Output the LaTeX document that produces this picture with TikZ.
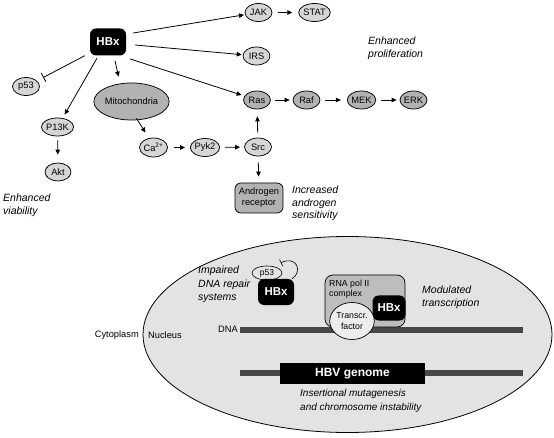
\documentclass[tikz,border=0pt]{standalone}
\usepackage{fontspec}
\setmainfont{Liberation Sans}
\usetikzlibrary{arrows.meta,shapes.geometric}
\definecolor{lg}{gray}{0.84}
\definecolor{dg}{gray}{0.70}
\definecolor{nuc}{gray}{0.89}
\definecolor{cplx}{gray}{0.74}
\definecolor{tfc}{gray}{0.93}
\definecolor{dna}{gray}{0.28}
\begin{document}
\begin{tikzpicture}[x=1pt,y=-1pt,
 every node/.style={font=\fontsize{9.3}{11}\selectfont},
 sm/.style={ellipse,draw,line width=0.75pt,fill=lg,inner sep=0pt,minimum width=27pt,minimum height=18pt},
 dk/.style={sm,fill=dg},
 hbx/.style={rectangle,rounded corners=6pt,fill=black,text=white,font=\fontsize{11.5}{12}\selectfont\bfseries,minimum width=36pt,minimum height=27pt,inner sep=0pt},
 arr/.style={-{Triangle[length=5pt,width=4.5pt]},line width=0.8pt},
 lab/.style={font=\fontsize{10.5}{12.5}\selectfont\itshape,align=left,anchor=north west,inner sep=0pt},
]
\useasboundingbox (0,0) rectangle (554,438);

% ---------- top pathway ----------
\node[hbx] (hbx) at (108,42) {HBx};
\node[sm] (jak) at (258.5,12.5) {JAK};
\node[sm] (stat) at (314.5,12.5) {STAT};
\node[sm] (irs) at (256.5,56) {IRS};
\node[dk] (ras) at (257,100) {Ras};
\node[dk] (raf) at (306.5,100) {Raf};
\node[dk] (mek) at (361.5,100) {MEK};
\node[dk] (erk) at (413.5,100) {ERK};
\node[sm] (p53) at (26,86.5) {p53};
\node[sm,minimum width=29pt] (pik) at (57.5,127) {P13K};
\node[sm,minimum width=26pt] (akt) at (58,172) {Akt};
\node[ellipse,draw,line width=0.75pt,fill=dg,minimum width=73pt,minimum height=37pt,inner sep=0pt] (mito) at (131.5,101.5) {Mitochondria};
\node[sm,minimum width=25pt,minimum height=19pt] (ca) at (153.5,147.5) {Ca\textsuperscript{2+}};
\node[sm,minimum width=26pt] (pyk) at (205,147.5) {Pyk2};
\node[sm] (src) at (258,147) {Src};
\node[rectangle,rounded corners=6pt,draw,line width=0.75pt,fill=dg,minimum width=48pt,minimum height=30pt,align=center,inner sep=0pt] (ar) at (259,198) {Androgen\\receptor};

\draw[arr,shorten >=1pt] ([shift={(7,-9)}]hbx.east) -- (jak);
\draw[arr,shorten >=1pt] ([shift={(9,3)}]hbx.east) -- (irs);
\draw[arr,shorten >=3pt] ([shift={(4,17)}]hbx.east) -- (ras);
\draw[arr] ([shift={(7,5)}]hbx.south) -- ([shift={(-13,-6)}]mito.north);
\draw[-{Bar[width=10pt]},line width=0.8pt,shorten >=7pt] ([shift={(-5,0)}]hbx.south west) -- (p53);
\draw[arr,shorten >=4pt] ([shift={(-11,2.5)}]hbx.south) -- (pik);
\draw[arr,shorten <=4pt,shorten >=8pt] (pik) -- (akt);
\draw[arr] ([shift={(5,-2)}]mito.south) -- ([shift={(-8,-5)}]ca.north);
\draw[arr,shorten <=6pt,shorten >=5pt] (ca) -- (pyk);
\draw[arr,shorten <=5pt,shorten >=4pt] (pyk) -- (src);
\draw[arr,shorten <=5pt,shorten >=7pt] (src) -- (ras);
\draw[arr,shorten <=6pt,shorten >=6pt] (src) -- (ar);
\draw[arr,shorten <=4.5pt,shorten >=3pt] (ras) -- (raf);
\draw[arr,shorten <=5pt,shorten >=6pt] (raf) -- (mek);
\draw[arr,shorten <=5pt,shorten >=3pt] (mek) -- (erk);
\draw[arr,shorten <=6pt,shorten >=6pt] (jak) -- (stat);

\node[lab] (viab) at (3,194) {Enhanced\\viability};
\node[lab] (prol) at (368,37) {Enhanced\\proliferation};
\node[lab] (andr) at (292,186) {Increased\\androgen\\sensitivity};

% ---------- nucleus ----------
\node[ellipse,draw,line width=0.8pt,fill=nuc,minimum width=409pt,minimum height=196pt,inner sep=0pt] (nucleus) at (347.5,334.5) {};
\node[anchor=east,inner sep=0pt,font=\fontsize{9.3}{10}\selectfont] (cyto) at (139,335) {Cytoplasm};
\node[anchor=west,inner sep=0pt,font=\fontsize{9.3}{10}\selectfont] (nucl) at (148,335) {Nucleus};

\node[anchor=east,inner sep=0pt] (dnalab) at (238,329) {DNA};
\draw[line width=6pt,dna] (240,330) -- (523,330);
\draw[line width=6pt,dna] (240,373) -- (523,373);
\node[rectangle,fill=black,text=white,minimum width=145pt,minimum height=21pt,inner sep=0pt,font=\fontsize{12}{13}\selectfont\bfseries] (hbv) at (352.5,373.5) {HBV genome};
\node[lab,font=\fontsize{10}{14}\selectfont\itshape] (insert) at (300,389) {Insertional mutagenesis\\and chromosome instability};

\node[lab,font=\fontsize{10.5}{13.5}\selectfont\itshape] (impair) at (198,266) {Impaired\\DNA repair\\systems};
\node[ellipse,draw,line width=0.6pt,fill=nuc,minimum width=30pt,minimum height=14pt,inner sep=0pt,font=\fontsize{8.5}{9}\selectfont] (p53b) at (267,273) {p53};
\node[hbx,minimum width=36pt,minimum height=26pt] (hbx2) at (276,292) {HBx};
\draw[-{Bar[width=7pt]},line width=0.6pt] ([shift={(16,0)}]hbx2.north) .. controls (303,272) and (297,255) .. ([shift={(3,-5)}]p53b.north east);

\node[rectangle,rounded corners=8pt,draw,line width=0.7pt,fill=cplx,minimum width=80pt,minimum height=52pt,inner sep=0pt] (pol) at (365,301) {};
\node[anchor=north west,inner sep=0pt,align=left,font=\fontsize{8.8}{10}\selectfont] (poltxt) at (329,280) {RNA pol II\\complex};
\node[hbx,minimum width=33pt,minimum height=25pt] (hbx3) at (389,308) {HBx};
\node[ellipse,draw,line width=0.7pt,fill=tfc,minimum width=41pt,minimum height=37pt,inner sep=0pt,align=center,font=\fontsize{8.8}{10.5}\selectfont] (tf) at (352,321) {Transcr.\\factor};
\node[lab] (modul) at (422,286) {Modulated\\transcription};
\end{tikzpicture}
\end{document}
